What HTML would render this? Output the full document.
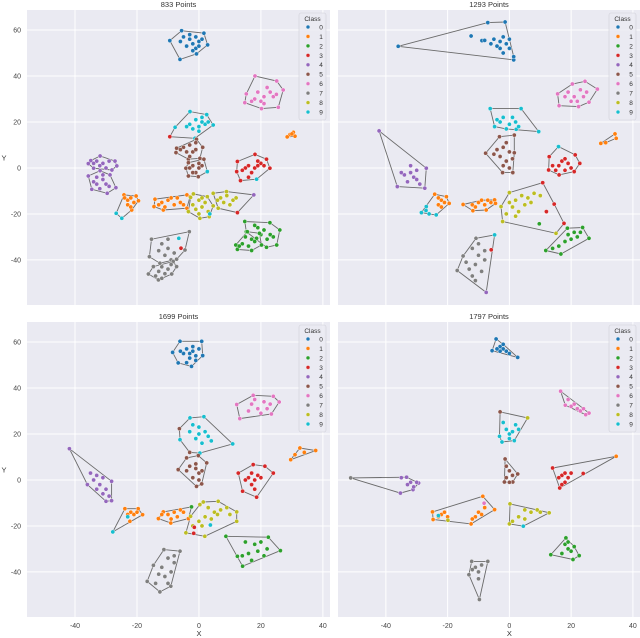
<!DOCTYPE html>
<html><head><meta charset="utf-8"><style>
html,body{margin:0;padding:0;background:#fff;}
svg{display:block;font-family:"Liberation Sans",sans-serif;}
</style></head><body>
<svg id="chart" width="640" height="638" viewBox="0 0 640 638" xmlns="http://www.w3.org/2000/svg"></svg>
<script>
const titles = ["833 Points","1293 Points","1699 Points","1797 Points"];
const classColors = ["#1f77b4","#ff7f0e","#2ca02c","#d62728","#9467bd","#8c564b","#e377c2","#7f7f7f","#bcbd22","#17becf"];
const classLabels = ["0","1","2","3","4","5","6","7","8","9"];
const xTicks = [-40,-20,0,20,40];
const yTicks = [-40,-20,0,20,40,60];

const groups1 = [
 [0,[[-5.6,59.7],[1.6,58.6],[2.8,53.5],[-0.8,49.6],[-6.1,47.2],[-9.4,55.4],[-5,57],[-3,56],[-1,57],[0,55],[-2,54],[-4,53],[-1,52],[1,56],[-3,58],[0,53],[-6,55],[-2,51]]],
 [6,[[18.1,40],[25.1,37.8],[27.2,33.9],[25.6,26.4],[20.2,25.8],[14.8,28.4],[15.3,32.2],[19,33],[21,31],[23,33],[24,31],[20,29],[18,30],[22,35],[25,32],[17,29],[21,28]]],
 [9,[[-2.9,24.5],[2.5,23.2],[4.6,18.7],[-1.3,12.9],[-9.4,13.6,3],[-7.7,17.7],[-1,21],[1,20],[-3,19],[0,18],[2,19],[-2,17],[1,22],[-4,18],[3,20],[0,16]]],
 [1,[[29.4,14.5],[30.5,15.5],[31,13.8],[28.5,13.5],[30,14.8]]],
 [5,[[-7.2,8.6],[-0.8,12.5],[1.2,9],[0.3,4.2],[-3.4,3.8],[-7.4,6.7],[-5,9],[-3,10],[-2,7],[-4,7],[-1,8],[-6,8],[-3,5],[-1,11]]],
 [5,[[-3.4,2.3],[1.6,3.8],[2.7,-1.6,9],[-0.2,-3.8],[-3.4,-3.5],[-4.2,-0.1],[-2,1],[0,0],[-1,-2],[1,1],[-3,0],[0,2],[-2,-2]]],
 [3,[[12.4,2.8],[18.1,5.9],[21.8,3.8],[22.9,-0.1],[18.6,-4.9,9],[13.4,-5.5],[12.2,-1.6],[16,1],[18,0],[20,2],[15,0],[17,-2],[19,1],[21,1],[14,-1],[16,-4],[19,3]]],
 [4,[[-34.9,3.2],[-31.9,5.2],[-27.1,3],[-26.5,0.9],[-28.1,-0.9],[-34,-0.1],[-35.7,1.9],[-33,3],[-31,2],[-29,3],[-32,1],[-30,0],[-34,2]]],
 [4,[[-35.7,-3.5],[-31.9,-1.2],[-28.7,-3],[-26.8,-8.6],[-29.6,-11],[-34.6,-9.3],[-33,-4],[-31,-5],[-30,-7],[-33,-7],[-32,-9],[-29,-8],[-34,-6],[-31,-3]]],
 [1,[[-24.2,-11.7],[-20.3,-12.2],[-19.5,-14.3],[-21.7,-18.3],[-23,-14],[-22,-13],[-21,-15],[-23,-16],[-22,-17],[-24,-13],[-26.7,-19.7,9],[-24.9,-21.9,9]]],
 [1,[[-14.2,-13.6],[-3.9,-11.7],[-2.9,-12.5],[-3.9,-17.5],[-11.5,-18.3],[-14.5,-16.8],[-12,-15],[-10,-14],[-8,-16],[-6,-15],[-9,-13],[-11,-17],[-7,-13],[-5,-16],[-13,-16]]],
 [8,[[-1.8,-11.3],[2.7,-12.5],[4.6,-16.5],[3.3,-21.2],[0.3,-21.9],[-3.4,-19],[-2.7,-12.8],[0,-14],[1,-17],[-1,-18],[2,-15],[3,-19],[0,-20],[-2,-16],[1,-13],[3.5,-20,9]]],
 [8,[[4.6,-11],[8.9,-10.3],[17.7,-11.7,4],[12.4,-19.4,3],[6.2,-17.5],[7,-13],[9,-12],[11,-14],[8,-15],[10,-16],[6,-14],[12,-13]]],
 [2,[[14.8,-23.3],[22.9,-23.8],[26.1,-27],[25.1,-33.5],[21.8,-34.5],[18.6,-30.6],[15.3,-27.7],[19,-26],[21,-27],[23,-29],[20,-29],[22,-31],[24,-30],[18,-25]]],
 [2,[[15.6,-27.7],[19.5,-28.4],[20.2,-33.5],[17,-35.9],[12.4,-35.4],[11.9,-33.5],[15,-30],[17,-31],[14,-33],[16,-34],[18,-32],[13,-34]]],
 [7,[[-15.3,-31],[-3.1,-27.7],[-4.5,-35.7],[-7.2,-39.7],[-12.6,-41.4],[-16,-38.6],[-6.5,-30.6,9],[-5.8,-34.9,3],[-12,-33],[-10,-35],[-8,-37],[-11,-38],[-9,-40],[-13,-36],[-10,-31]]],
 [7,[[-14.7,-42.9],[-8.3,-40.7],[-7.2,-42.9],[-8.8,-46.1],[-13.1,-48.7],[-16.3,-46.1],[-12,-43],[-10,-44],[-11,-46],[-13,-45],[-9,-42],[-14,-47],[-12,-48]]]
];
const groups2 = [
 [0,[[-36,52.9],[-7,63.2],[-1.4,63.5],[1.4,47],[1.4,48.4],[-12.4,57.4],[-8.9,55.4],[-8,55.5],[-5,56],[-3,55],[-2,57],[-1,54],[-3,52],[0,56],[-4,53],[-2,50],[0,52],[-6,54]]],
 [6,[[15.6,32.2],[20.4,36.5],[24.5,37.7],[28.5,34.3],[25.8,28.6],[22.4,26.7],[16.1,27.1],[19,33],[21,31],[23,34],[24,31],[20,29],[22,29],[25,33],[18,31]]],
 [9,[[-6.2,25.8],[3.8,25.8],[9.5,15.8],[2.2,16.8],[-4.8,18],[-3,20],[0,19],[2,20],[-1,17],[1,22],[-4,21],[3,18],[-2,22]]],
 [1,[[29.6,10.7],[34.2,14.8],[34.6,12.9],[31.2,11]]],
 [5,[[-3.2,13.6],[1.6,14.3],[1.6,6.6],[1.1,-2],[-2.2,-2],[-7.7,6.4],[-4,8],[-2,9],[0,7],[-3,5],[-1,3],[0,0],[-2,1],[-5,6],[-1,11],[1,4]]],
 [3,[[15.9,9.3,9],[21.3,5.7],[22.8,2],[21,-1.6],[16.1,-3],[12.7,-0.9],[12.9,4.9],[16,1],[18,-1],[19,2],[17,3],[15,-1],[20,0],[18,4],[14,1]]],
 [4,[[-42.2,16.1],[-26.9,-0.1],[-27.4,-8.8],[-36.3,-8.1],[-34,-3],[-32,-2],[-31,-4],[-33,-6],[-30,-5],[-29,-7],[-32,1],[-35,-2],[-30,-1]]],
 [1,[[-24.2,-11.4],[-20.4,-12.5],[-19.5,-15.4],[-23,-13],[-22,-14],[-21,-15],[-23,-16],[-22,-17],[-23.7,-20.4,9],[-28.5,-19.4,9],[-26.9,-16.8,9],[-27,-18.5,9],[-26,-20,9]]],
 [1,[[-15,-15.9],[-4.8,-13.9],[-4.5,-15.4],[-7.5,-18.3],[-11.8,-18.6],[-12,-16],[-10,-15],[-8,-16],[-9,-14],[-11,-17],[-6,-15],[-7,-14]]],
 [8,[[0,-10.7],[10.8,-6.4,3],[14.5,-15.7,3],[17.7,-24.1,3],[15.1,-28.4],[-2.2,-23.3],[-2.7,-16.8],[9.7,-24.3,2],[12,-19,3],[2,-14],[4,-12],[6,-13],[8,-11],[10,-12],[1,-17],[3,-19],[5,-16],[0,-15],[7,-15],[-1,-20],[2,-21]]],
 [2,[[18.8,-26.2],[23.7,-25.9],[25.8,-30.6],[16.7,-37.4],[11.8,-35.9],[19,-29],[21,-28],[23,-28],[18,-32],[20,-31],[16,-34],[14,-35],[22,-30]]],
 [7,[[-10.8,-30.6],[-4.8,-29.1,9],[-5.9,-35.6,3],[-7.5,-54.1,4],[-16.9,-44.6],[-15,-38.3],[-12,-35],[-10,-38],[-8,-40],[-11,-42],[-13,-44],[-9,-45],[-12,-47],[-14,-41],[-10,-33],[-8,-36],[-11,-49]]]
];
const groups3 = [
 [0,[[-6.1,60.3],[0.9,60.3],[1.2,54.1],[-2.4,49.4],[-6.7,50.9],[-8.5,55.5],[-4,57],[-2,56],[-1,54],[-3,53],[-5,55],[0,57],[-2,58],[-4,51],[-1,52],[-6,56],[-3,55]]],
 [6,[[12.2,32.8],[17.5,36.8],[24,36.4],[25.9,33.9],[23.4,28.7],[13.2,26.7],[17,33],[19,31],[21,34],[23,33],[20,29],[16,30],[22,31],[18,35]]],
 [9,[[-2.9,27],[1.6,27.5],[10.9,15.7],[0.3,11.7],[-6.1,17.5],[-6.3,22.3,5],[-3,12,5],[-3,21],[0,20],[2,21],[-1,18],[1,16],[3,19],[-2,24],[4,17],[0,23]]],
 [1,[[29.6,8.8],[32.6,13.9],[37.7,12.8],[31,11],[34,12]]],
 [5,[[-4,9.6],[-0.2,10.6],[2.5,7.4],[0.9,-1.7],[-0.8,-2.8],[-6.7,4.5],[-3,6],[-1,5],[0,3],[-2,1],[-1,7],[1,4],[-4,4],[0,0]]],
 [3,[[12.7,3],[17.5,6.7],[21.3,6],[24,3],[18.6,-7.5],[14.1,-4.9],[16,1],[18,0],[19,2],[17,-2],[15,0],[20,1],[18,-4],[17,3]]],
 [4,[[-41.8,13.6],[-28.2,-0.6],[-28.2,-9],[-30,-9.3],[-36,-2],[-35,3],[-33,2],[-31,1],[-34,0],[-32,-2],[-30,-4],[-33,-4],[-31,-6],[-29,-7]]],
 [1,[[-23.9,-12.5],[-19.6,-12.5],[-18.2,-15.1],[-22.3,-18],[-22,-14],[-21,-15],[-23,-15],[-20,-14],[-27.8,-22.6,9],[-23,-16,9]]],
 [1,[[-11.5,-13.9],[-2.4,-11.7,2],[-3.4,-16.8],[-9.1,-18.7],[-13.1,-16.8],[-10,-15],[-8,-14],[-6,-13],[-9,-17],[-7,-16],[-12,-15],[-5,-14]]],
 [8,[[1.4,-9.6],[6.2,-9.3],[12.2,-13.9],[12.2,-18],[1.9,-24.5],[-4.2,-23],[-2.7,-15.8],[0.3,-10.7],[3,-12],[5,-14],[7,-13],[9,-12],[2,-16],[4,-17],[6,-15],[0,-18],[-2,-20],[1,-20],[10,-15],[-1.7,-23.2,3],[-1.5,-20.6,3],[3.7,-19.6,9]]],
 [2,[[8.7,-24.5],[22.4,-24.9],[26.3,-30.7],[14.1,-37.5],[12.4,-33.2],[15,-27],[18,-28],[20,-27],[22,-30],[19,-31],[16,-32],[17,-35],[21,-33],[14,-33]]],
 [7,[[-11.3,-30.3],[-6.1,-31],[-9.1,-46.2],[-12.6,-48.7],[-16.7,-44.1],[-14.7,-37.1],[-10,-34],[-8,-36],[-12,-38],[-9,-40],[-11,-42],[-13,-41],[-10,-45],[-14,-45],[-8,-33]]]
];
const groups4 = [
 [0,[[-4.3,61.3],[2.7,53.3],[-5.6,56.2],[-3,58],[-2,57],[-3,56],[-1,56],[0,55],[-4,57],[-2,59]]],
 [6,[[16.6,38.6],[25.8,29.1],[24.7,28.4],[18.1,32.5],[19,35],[21,33],[22,31],[23,30],[20,32],[24,31]]],
 [9,[[-3,29.6,5],[5.9,27,8],[1.6,17.1],[-2.4,16.5],[-3.2,19],[-1,22],[0,20],[1,21],[2,24],[-2,25],[0,18],[3,22]]],
 [5,[[-1.4,9.1],[2.7,2.6],[1.1,-0.9],[-1.6,-0.9],[-1,6],[0,4],[1,2],[-1,1],[0,-1]]],
 [3,[[14,5.2],[34.6,10.3,1],[23.9,2.8],[16.3,-3.5],[17,2],[18,3],[19,1],[16,1],[18,-1],[20,3],[17,-2]]],
 [4,[[-51.4,0.9,7],[-33.3,1.2],[-29.4,-1.3],[-31.2,-4.2],[-35.3,-5.7],[-32,-1],[-31,-3],[-33,-2],[-30,-1],[-35,1]]],
 [1,[[-24.9,-13.9],[-8.6,-7.1],[-4.8,-12.9],[-12.4,-19.1],[-24.7,-17.2],[-22,-15],[-21,-14],[-20,-16],[-23,-16],[-11,-16],[-10,-14],[-9,-15],[-8,-12],[-12,-17],[-19.9,-17.5,8],[-8.2,-10.1,6],[-23,-15.5,9]]],
 [8,[[0.2,-10.4],[12.9,-14.3],[4.5,-20.1,9],[0,-19.1],[5,-13],[7,-14],[9,-13],[3,-16],[5,-17],[1,-18],[10,-14]]],
 [2,[[18.3,-25.2],[22.6,-32.9],[20.6,-34.6],[13.4,-32.5],[18,-28],[19,-30],[20,-31],[17,-32],[21,-29],[19,-27]]],
 [7,[[-12.2,-35.4],[-7,-35.4],[-9.7,-52],[-13.1,-41.2],[-11,-38],[-10,-40],[-9,-37],[-12,-39],[-10,-43]]]
];

const NS = "http://www.w3.org/2000/svg";
const svg = document.getElementById("chart");
function mk(tag, attrs, parent){ const e=document.createElementNS(NS,tag); for(const k in attrs) e.setAttribute(k,attrs[k]); (parent||svg).appendChild(e); return e; }

const panels = [
 {x:27,y:10,w:303,h:295,groups:groups1,title:titles[0],left:true,bottom:false},
 {x:338,y:10,w:302,h:295,groups:groups2,title:titles[1],left:false,bottom:false},
 {x:27,y:322,w:303,h:295,groups:groups3,title:titles[2],left:true,bottom:true},
 {x:338,y:322,w:302,h:295,groups:groups4,title:titles[3],left:false,bottom:true}
];
const XMIN=-55.5, XMAX=42.3, YMIN=-59.6, YMAX=68.7;

function hull(pts){
  const p = pts.map(a=>[a[0],a[1]]).sort((a,b)=>a[0]-b[0]||a[1]-b[1]);
  const cr=(o,a,b)=>(a[0]-o[0])*(b[1]-o[1])-(a[1]-o[1])*(b[0]-o[0]);
  const lo=[],up=[];
  for(const q of p){ while(lo.length>=2&&cr(lo[lo.length-2],lo[lo.length-1],q)<=0) lo.pop(); lo.push(q); }
  for(let i=p.length-1;i>=0;i--){ const q=p[i]; while(up.length>=2&&cr(up[up.length-2],up[up.length-1],q)<=0) up.pop(); up.push(q); }
  up.pop(); lo.pop(); return lo.concat(up);
}

panels.forEach((P,pi)=>{
  const g = mk("g",{});
  
  
  const sx = v => P.x + (v-XMIN)/(XMAX-XMIN)*P.w;
  const sy = v => P.y + (YMAX-v)/(YMAX-YMIN)*P.h;
  const bg = mk("rect",{x:P.x,y:P.y,width:P.w,height:P.h,fill:"#eaeaf2"},g);
  
  
  xTicks.forEach(t=>{
    const l=mk("line",{x1:sx(t),x2:sx(t),y1:P.y,y2:P.y+P.h,stroke:"#fff","stroke-width":1},g);
    
    
    if(P.bottom){ const tx=mk("text",{x:sx(t),y:P.y+P.h+11,"font-size":7,fill:"#444","text-anchor":"middle"},g); tx.textContent=t;
      
       }
  });
  yTicks.forEach(t=>{
    const l=mk("line",{x1:P.x,x2:P.x+P.w,y1:sy(t),y2:sy(t),stroke:"#fff","stroke-width":1},g);
    
    
    if(P.left){ const tx=mk("text",{x:P.x-6,y:sy(t)+2.5,"font-size":7,fill:"#444","text-anchor":"end"},g); tx.textContent=t;
      
       }
  });
  const ti=mk("text",{x:P.x+P.w/2,y:P.y-3,"font-size":7.5,fill:"#333","text-anchor":"middle"},g); ti.textContent=P.title;
  
  
  if(P.left){ const yl=mk("text",{x:4,y:P.y+P.h/2+3,"font-size":7.5,fill:"#333","text-anchor":"middle"},g); yl.textContent="Y";
    
     }
  if(P.bottom){ const xl=mk("text",{x:sx(0),y:636,"font-size":7.5,fill:"#333","text-anchor":"middle"},g); xl.textContent="X";
    
     }
  // hulls
  P.groups.forEach(gr=>{
    const h = hull(gr[1]);
    const poly = mk("polygon",{points:h.map(q=>sx(q[0]).toFixed(1)+","+sy(q[1]).toFixed(1)).join(" "),fill:"none",stroke:"#6a6a6a","stroke-width":0.9},g);
    
    
  });
  P.groups.forEach(gr=>{
    gr[1].forEach(q=>{
      const c = q.length>2 ? q[2] : gr[0];
      const pt = mk("circle",{cx:sx(q[0]).toFixed(1),cy:sy(q[1]).toFixed(1),r:2.1,fill:classColors[c],stroke:"#fff","stroke-width":0.4},g);
      
      
    });
  });
  // legend
  const lx = P.x+P.w-31, ly = P.y+3;
  const lg = mk("g",{},g);
  
  
  mk("rect",{x:lx,y:ly,width:27,height:107,rx:2,fill:"#eaeaf2","fill-opacity":0.85,stroke:"#d0d0d8","stroke-width":0.6},lg);
  const lt=mk("text",{x:lx+13.5,y:ly+8,"font-size":6.5,fill:"#333","text-anchor":"middle"},lg); lt.textContent="Class";
  
  
  classLabels.forEach((lab,i)=>{
    const yy = ly+14+i*9.45;
    const m=mk("circle",{cx:lx+9,cy:yy,r:1.9,fill:classColors[i],stroke:"#fff","stroke-width":0.3},lg);
    
    
    const t=mk("text",{x:lx+22,y:yy+2.4,"font-size":6.5,fill:"#333","text-anchor":"middle"},lg); t.textContent=lab;
    
    
  });
});
</script>
</body></html>
